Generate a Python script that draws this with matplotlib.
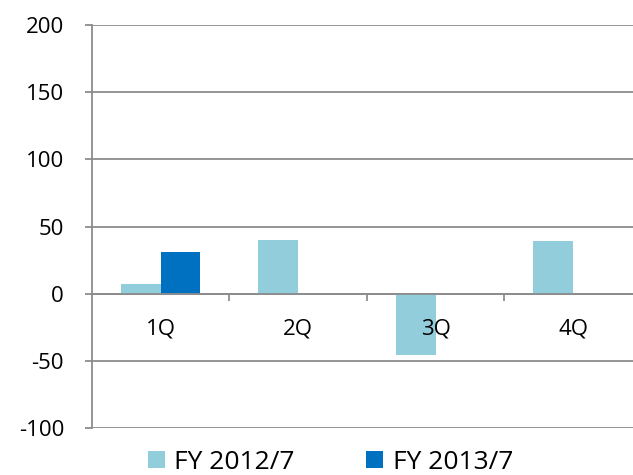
import matplotlib.pyplot as plt
import numpy as np

# data
quarters = ['1Q', '2Q', '3Q', '4Q']
fy2012 = [7, 40, -46, 39]
fy2013 = [31, np.nan, np.nan, np.nan]

plt.rcParams['font.family'] = ['Open Sans', 'DejaVu Sans']
plt.rcParams['axes.unicode_minus'] = False

fig = plt.figure(figsize=(6.33, 4.75), dpi=100)
ax = fig.add_axes([0.145, 0.099, 0.869, 0.848])
ax.set_axisbelow(False)  # labels and zero line on top of bars

gray = '#8c8c8c'
yt = np.arange(-100, 201, 50)
for v in yt:
    ax.axhline(v, color=gray, linewidth=1.3, zorder=1)

x = np.arange(len(quarters))
w = 0.289
ax.bar(x - w/2, fy2012, w, color='#92CDDC', label='FY 2012/7', zorder=2)
ax.bar(x + w/2, fy2013, w, color='#0070C0', label='FY 2013/7', zorder=2)

ax.set_xlim(-0.5, 3.5)
ax.set_ylim(-100, 200)
ax.set_yticks(yt)

for s in ['top', 'right']:
    ax.spines[s].set_visible(False)
ax.spines['left'].set_color(gray)
ax.spines['left'].set_linewidth(1.3)
ax.spines['bottom'].set_position(('data', 0))
ax.spines['bottom'].set_color(gray)
ax.spines['bottom'].set_linewidth(1.3)

ax.set_xticks(x)
ax.set_xticklabels(quarters)
ax.set_xticks(np.arange(0.5, 3.5, 1), minor=True)
ax.tick_params(axis='x', which='major', length=0, pad=18, labelsize=16)
ax.tick_params(axis='x', which='minor', length=5, width=1.3, color=gray)
ax.tick_params(axis='y', length=5, width=1.3, color=gray, labelsize=16, pad=15)

fig.legend(loc='center', ncol=2, frameon=False, fontsize=19,
           handlelength=0.65, handleheight=0.65, handletextpad=0.35,
           columnspacing=2.7, bbox_to_anchor=(0.522, 0.027))

fig.savefig('out.png', dpi=100)
